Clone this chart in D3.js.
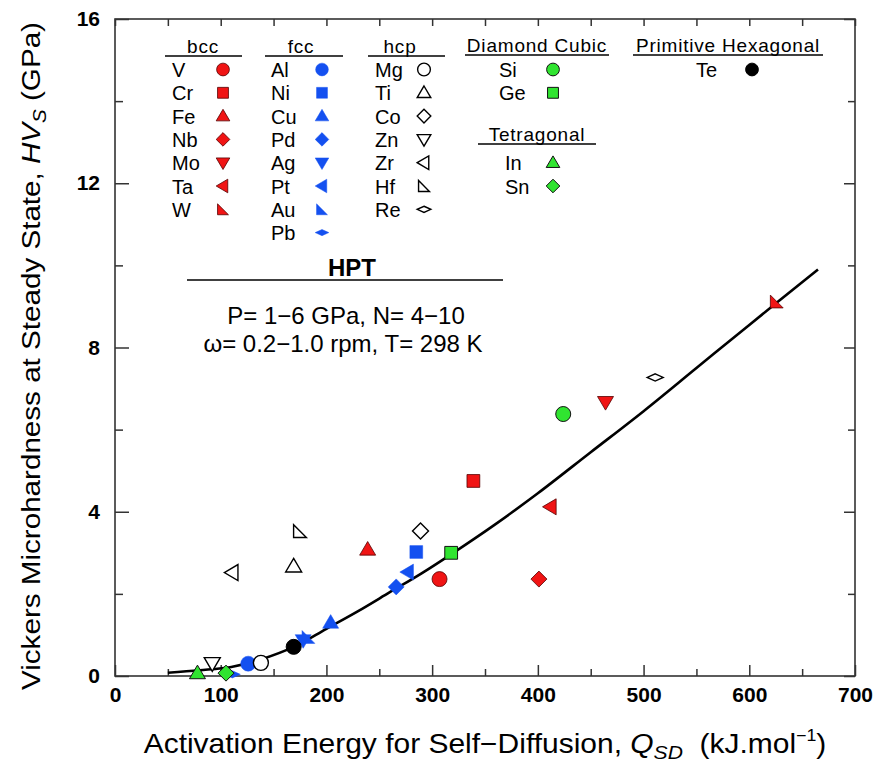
<!DOCTYPE html>
<html>
<head>
<meta charset="utf-8">
<title>HV steady state vs activation energy</title>
<script src="https://d3js.org/d3.v7.min.js"></script>
<style>
  body { margin: 0; background: #fff; }
  text { font-family: "Liberation Sans", Arial, sans-serif; fill: #000; }
</style>
</head>
<body>
<svg id="chart"></svg>
<script>
// values: Q_SD (kJ/mol), HV_S (GPa)
var bccNames = ["V", "Cr", "Fe", "Nb", "Mo", "Ta", "W"];
var bccQ = [307, 339, 239, 401, 464, 412, 626];
var bccHV = [2.36, 4.75, 3.08, 2.36, 6.67, 4.12, 9.12];

var fccNames = ["Al", "Ni", "Cu", "Pd", "Ag", "Pt", "Au", "Pb"];
var fccQ = [126, 285, 204, 266, 178, 277, 183, 111];
var fccHV = [0.30, 3.02, 1.30, 2.17, 0.87, 2.53, 0.95, 0.04];

var hcpNames = ["Mg", "Ti", "Co", "Zn", "Zr", "Hf", "Re"];
var hcpQ = [138, 169, 289, 92, 111, 175, 511];
var hcpHV = [0.32, 2.67, 3.53, 0.31, 2.52, 3.53, 7.27];

var dcNames = ["Si", "Ge"];
var dcQ = [424, 318];
var dcHV = [6.38, 3.0];

var tetNames = ["In", "Sn"];
var tetQ = [78, 105];
var tetHV = [0.07, 0.07];

var phNames = ["Te"];
var phQ = [169];
var phHV = [0.71];

// fitted curve, read at points along the line
var fitQ = [50, 80, 110, 140, 170, 200, 230, 260, 290, 320, 360, 400, 450, 500, 550, 600, 665];
var fitHV = [0.08, 0.14, 0.22, 0.42, 0.72, 1.15, 1.58, 2.04, 2.5, 3.0, 3.7, 4.45, 5.45, 6.45, 7.5, 8.55, 9.9];

var xTicks = [0, 100, 200, 300, 400, 500, 600, 700];
var yTicks = [0, 4, 8, 12, 16];

var W = 880, H = 768;
var svg = d3.select("#chart").attr("width", W).attr("height", H);

var x = d3.scaleLinear().domain([0, 700]).range([115, 855]);
var y = d3.scaleLinear().domain([0, 16]).range([676, 19]);

var RED = "#f01414", BLUE = "#1450f0", GREEN = "#30e430";

// marker shapes
function shape(t, s) {
  var h = s * 0.8;
  switch (t) {
    case "circle": return "M" + s + ",0A" + s + "," + s + " 0 1,1 " + (-s) + ",0A" + s + "," + s + " 0 1,1 " + s + ",0Z";
    case "square": return "M" + (-h) + "," + (-h) + "H" + h + "V" + h + "H" + (-h) + "Z";
    case "up": return "M0," + (-s) + "L" + s + "," + (s * 0.7) + "L" + (-s) + "," + (s * 0.7) + "Z";
    case "down": return "M0," + s + "L" + s + "," + (-s * 0.7) + "L" + (-s) + "," + (-s * 0.7) + "Z";
    case "left": return "M" + (-s) + ",0L" + (s * 0.7) + "," + (-s) + "L" + (s * 0.7) + "," + s + "Z";
    case "diamond": return "M0," + (-s) + "L" + s + ",0L0," + s + "L" + (-s) + ",0Z";
    case "corner": return "M" + (-h) + "," + (-h) + "L" + (-h) + "," + h + "L" + h + "," + h + "Z";
    case "flat": return "M0," + (-s * 0.45) + "L" + s + ",0L0," + (s * 0.45) + "L" + (-s) + ",0Z";
  }
}

var bccShapes = ["circle", "square", "up", "diamond", "down", "left", "corner"];
var fccShapes = ["circle", "square", "up", "diamond", "down", "left", "corner", "flat"];
var hcpShapes = ["circle", "up", "diamond", "down", "left", "corner", "flat"];
var dcShapes = ["circle", "square"];
var tetShapes = ["up", "diamond"];
var phShapes = ["circle"];

var groups = [
  { names: bccNames, q: bccQ, hv: bccHV, shapes: bccShapes, fill: RED, stroke: "#500", sw: 0.8 },
  { names: fccNames, q: fccQ, hv: fccHV, shapes: fccShapes, fill: BLUE, stroke: BLUE, sw: 0.5 },
  { names: hcpNames, q: hcpQ, hv: hcpHV, shapes: hcpShapes, fill: "#fff", stroke: "#000", sw: 1.4 },
  { names: dcNames, q: dcQ, hv: dcHV, shapes: dcShapes, fill: GREEN, stroke: "#111", sw: 1 },
  { names: tetNames, q: tetQ, hv: tetHV, shapes: tetShapes, fill: GREEN, stroke: "#111", sw: 1 },
  { names: phNames, q: phQ, hv: phHV, shapes: phShapes, fill: "#000", stroke: "#000", sw: 1 }
];

function size(t) {
  if (t == "circle") return 7.5;
  if (t == "corner") return 8;
  return 8;
}

// frame
svg.append("rect")
  .attr("x", x(0)).attr("y", y(16))
  .attr("width", x(700) - x(0)).attr("height", y(0) - y(16))
  .attr("fill", "none").attr("stroke", "#333").attr("stroke-width", 1.6);

// axes: major ticks with labels, minor ticks without
function styleAxis(g) {
  g.select(".domain").remove();
  g.selectAll(".tick line").attr("stroke", "#333").attr("stroke-width", 1.5);
  g.selectAll("text").attr("font-size", 21).attr("font-weight", "bold")
    .attr("fill", "#000").attr("font-family", "'Liberation Sans', Arial, sans-serif");
}
var xMinor = d3.range(50, 700, 100);
var yMinor = [2, 6, 10, 14];

svg.append("g").attr("transform", "translate(0," + y(0) + ")")
  .call(d3.axisBottom(x).tickValues(xTicks).tickSize(-11).tickPadding(11).tickFormat(d3.format("d")))
  .call(styleAxis);
svg.append("g").attr("transform", "translate(0," + y(0) + ")")
  .call(d3.axisBottom(x).tickValues(xMinor).tickSize(-7).tickFormat(""))
  .call(styleAxis);
svg.append("g").attr("transform", "translate(0," + y(16) + ")")
  .call(d3.axisTop(x).tickValues(xTicks.concat(xMinor)).tickSize(-7).tickFormat(""))
  .call(styleAxis);

svg.append("g").attr("transform", "translate(" + x(0) + ",0)")
  .call(d3.axisLeft(y).tickValues(yTicks).tickSize(-14).tickPadding(15).tickFormat(d3.format("d")))
  .call(styleAxis);
svg.append("g").attr("transform", "translate(" + x(0) + ",0)")
  .call(d3.axisLeft(y).tickValues(yMinor).tickSize(-8).tickFormat(""))
  .call(styleAxis);
svg.append("g").attr("transform", "translate(" + x(700) + ",0)")
  .call(d3.axisRight(y).tickValues(yTicks).tickSize(-11).tickFormat(""))
  .call(styleAxis);
svg.append("g").attr("transform", "translate(" + x(700) + ",0)")
  .call(d3.axisRight(y).tickValues(yMinor).tickSize(-7).tickFormat(""))
  .call(styleAxis);

// fitted curve
var line = d3.line()
  .x(function(d, i) { return x(fitQ[i]); })
  .y(function(d, i) { return y(fitHV[i]); })
  .curve(d3.curveCatmullRom);
svg.append("path").datum(fitQ)
  .attr("d", line)
  .attr("fill", "none").attr("stroke", "#000").attr("stroke-width", 2.6);

// data points
groups.forEach(function(g) {
  svg.append("g").selectAll("path")
    .data(g.names)
    .enter().append("path")
    .attr("transform", function(d, i) { return "translate(" + x(g.q[i]) + "," + y(g.hv[i]) + ")"; })
    .attr("d", function(d, i) { return shape(g.shapes[i], size(g.shapes[i])); })
    .attr("fill", g.fill).attr("stroke", g.stroke).attr("stroke-width", g.sw);
});

// legend
var rowY0 = 69.5, rowH = 23.3;
function header(label, cx, baseY, x1, x2) {
  svg.append("text").attr("x", cx).attr("y", baseY)
    .attr("text-anchor", "middle").attr("font-size", 19).attr("letter-spacing", 0.8)
    .text(label);
  svg.append("line").attr("x1", x1).attr("x2", x2).attr("y1", baseY + 3).attr("y2", baseY + 3)
    .attr("stroke", "#000").attr("stroke-width", 1.5);
}
function legendCol(g, nameX, markX, row0, anchor) {
  g.names.forEach(function(n, i) {
    var cy = rowY0 + (row0 + i) * rowH;
    svg.append("text").attr("x", nameX).attr("y", cy + 7.5)
      .attr("font-size", 20).attr("text-anchor", anchor || "start").text(n);
    var t = g.shapes[i];
    svg.append("path")
      .attr("transform", "translate(" + markX + "," + cy + ")")
      .attr("d", shape(t, size(t) * 0.85))
      .attr("fill", g.fill).attr("stroke", g.stroke).attr("stroke-width", g.sw);
  });
}

header("bcc", 203, 53, 165, 242);
legendCol(groups[0], 172, 223, 0);
header("fcc", 301, 53, 265, 343);
legendCol(groups[1], 271, 322, 0);
header("hcp", 400, 53, 368, 445);
legendCol(groups[2], 375, 424, 0);
header("Diamond Cubic", 537, 52, 465, 609);
legendCol(groups[3], 499, 553, 0);
header("Tetragonal", 537, 141, 478, 596);
legendCol(groups[4], 505, 553, 4);
header("Primitive Hexagonal", 728, 52, 633, 823);
legendCol(groups[5], 696, 752, 0);

// HPT conditions
svg.append("text").attr("x", 352).attr("y", 276).attr("text-anchor", "middle")
  .attr("font-size", 24).attr("font-weight", "bold").text("HPT");
svg.append("line").attr("x1", 187).attr("x2", 503).attr("y1", 280).attr("y2", 280)
  .attr("stroke", "#000").attr("stroke-width", 1.6);
svg.append("text").attr("x", 346).attr("y", 324).attr("text-anchor", "middle")
  .attr("font-size", 24).text("P= 1\u22126 GPa, N= 4\u221210");
svg.append("text").attr("x", 343).attr("y", 352).attr("text-anchor", "middle")
  .attr("font-size", 24).text("\u03c9= 0.2\u22121.0 rpm, T= 298 K");

// axis titles (squeezed to the width of the original lettering)
function fitWidth(sel, target) {
  var w = sel.node().getBBox().width;
  return target / w;
}

var xt = svg.append("g");
var xText = xt.append("text").attr("text-anchor", "middle").attr("font-size", 27);
xText.append("tspan").text("Activation Energy for Self\u2212Diffusion, ");
xText.append("tspan").attr("font-style", "italic").text("Q");
xText.append("tspan").attr("font-style", "italic").attr("font-size", 19).attr("dy", 6).text("SD");
xText.append("tspan").attr("dy", -6).text("\u00a0 (kJ.mol");
xText.append("tspan").attr("font-size", 16).attr("dy", -12).text("\u22121");
xText.append("tspan").attr("dy", 12).text(")");
var sx = fitWidth(xText, 683);
xt.attr("transform", "translate(485,753) scale(" + sx + ",1)");

var yt = svg.append("g");
var yText = yt.append("text").attr("text-anchor", "middle").attr("font-size", 26);
yText.append("tspan").text("Vickers Microhardness at Steady State, ");
yText.append("tspan").attr("font-style", "italic").text("HV");
yText.append("tspan").attr("font-style", "italic").attr("font-size", 18).attr("dy", 6).text("S");
yText.append("tspan").attr("dy", -6).text(" (GPa)");
var sy = fitWidth(yText, 668);
yt.attr("transform", "translate(40,356) rotate(-90) scale(" + sy + ",1)");
</script>
</body>
</html>
